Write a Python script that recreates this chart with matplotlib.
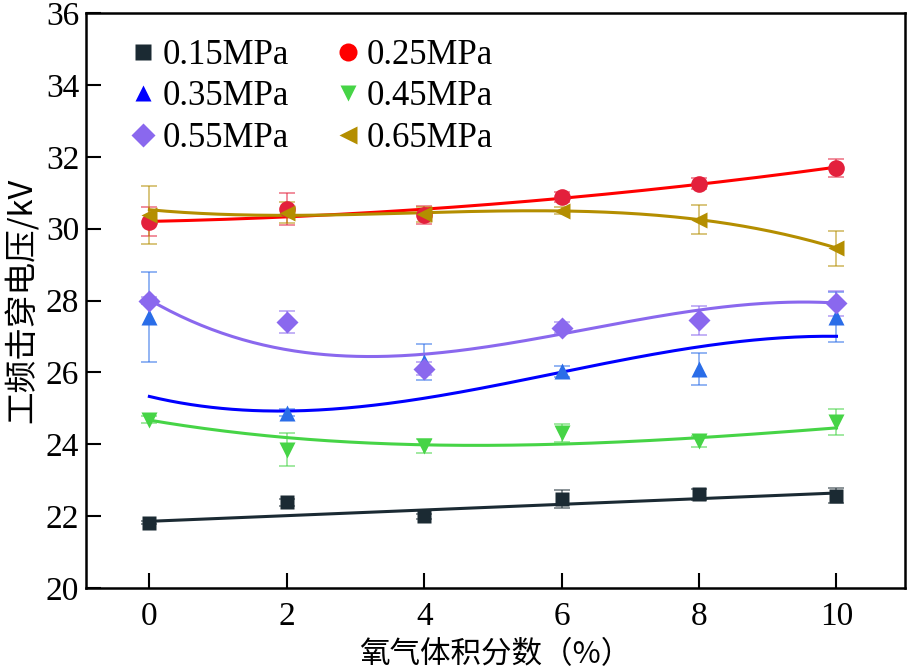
import numpy as np
import matplotlib
matplotlib.use("Agg")
import matplotlib.pyplot as plt

# oxygen volume fraction (%)
oxygen = np.array([0, 2, 4, 6, 8, 10])

# breakdown voltage (kV) for each pressure, with error bars
labels = ["0.15MPa", "0.25MPa", "0.35MPa", "0.45MPa", "0.55MPa", "0.65MPa"]
v_015 = [21.82, 22.38, 21.99, 22.48, 22.61, 22.57]
e_015 = [0.05, 0.10, 0.08, 0.25, 0.15, 0.20]
v_025 = [30.20, 30.55, 30.38, 30.88, 31.25, 31.68]
e_025 = [0.40, 0.45, 0.25, 0.15, 0.15, 0.25]
v_035 = [27.55, 24.88, 26.30, 26.03, 26.10, 27.55]
e_035 = [1.25, 0.10, 0.50, 0.15, 0.45, 0.70]
v_045 = [24.68, 23.85, 23.95, 24.32, 24.08, 24.62]
e_045 = [0.10, 0.45, 0.20, 0.25, 0.15, 0.35]
v_055 = [28.00, 27.40, 26.10, 27.25, 27.45, 27.92]
e_055 = [0.10, 0.30, 0.18, 0.15, 0.40, 0.35]
v_065 = [30.38, 30.45, 30.40, 30.50, 30.25, 29.45]
e_065 = [0.80, 0.30, 0.20, 0.10, 0.40, 0.50]

values = [v_015, v_025, v_035, v_045, v_055, v_065]
errors = [e_015, e_025, e_035, e_045, e_055, e_065]
fit_deg = [1, 2, 3, 3, 3, 3]

markers = ["s", "o", "^", "v", "D", "<"]
marker_colors = ["#1b2a33", "#e3203c", "#2a6de8", "#46d446", "#8a68ee", "#b48e00"]
legend_colors = ["#1b2a33", "#ff0000", "#0000ff", "#46d446", "#8a68ee", "#b48e00"]
line_colors = ["#1b2a33", "#ff0000", "#0000ff", "#46d446", "#8a68ee", "#b48e00"]
msizes = [10, 12, 11, 11, 11, 12]

serif = ["Liberation Serif", "DejaVu Serif"]
cjk = ["Noto Sans CJK SC", "DejaVu Sans"]

fig = plt.figure(figsize=(9.07, 6.70), dpi=100)
ax = fig.add_axes([0.095, 0.1224, 0.903, 0.858])

xs = np.linspace(0, 10, 200)
handles = []
for i in range(len(labels)):
    y = np.array(values[i])
    err = np.array(errors[i])
    ax.errorbar(oxygen, y, yerr=err, fmt="none", ecolor=marker_colors[i],
                alpha=0.55, capsize=6, elinewidth=1.3, capthick=1.3, zorder=2)
    # weighted polynomial fit through the measured points
    coef = np.polyfit(oxygen, y, fit_deg[i], w=1.0 / err)
    ax.plot(xs, np.polyval(coef, xs), color=line_colors[i], lw=2.2, zorder=3)
    ax.plot(oxygen, y, ls="none", marker=markers[i], ms=msizes[i],
            color=marker_colors[i], mec="none", zorder=4)
    # legend proxy
    h, = ax.plot([], [], ls="none", marker=markers[i], ms=msizes[i] + 1,
                 color=legend_colors[i], mec="none", label=labels[i])
    handles.append(h)

ax.set_xlim(-0.92, 11.0)
ax.set_ylim(20, 36)
ax.set_xticks(oxygen)
ax.set_yticks(np.arange(20, 37, 2))

for s in ax.spines.values():
    s.set_linewidth(1.8)
ax.tick_params(direction="in", length=10.5, width=1.5, labelsize=24)
ax.tick_params(axis="y", pad=5)
ax.tick_params(axis="x", pad=10)
for t in ax.get_xticklabels() + ax.get_yticklabels():
    t.set_family(serif)

ax.set_xlabel("氧气体积分数（%）", family=cjk, fontsize=22, labelpad=5)
ax.set_ylabel("工频击穿电压/kV", family=cjk, fontsize=23.5, labelpad=5)

# row-major order like the original legend
order = [0, 2, 4, 1, 3, 5]
ax.legend([handles[k] for k in order], [labels[k] for k in order],
          ncol=2, loc="upper left", bbox_to_anchor=(0.057, 0.955), frameon=False,
          prop={"family": serif, "size": 25}, handletextpad=0.25,
          columnspacing=1.4, labelspacing=0.24, handlelength=0.6,
          borderaxespad=0, borderpad=0)

fig.savefig("out.png", dpi=100)
